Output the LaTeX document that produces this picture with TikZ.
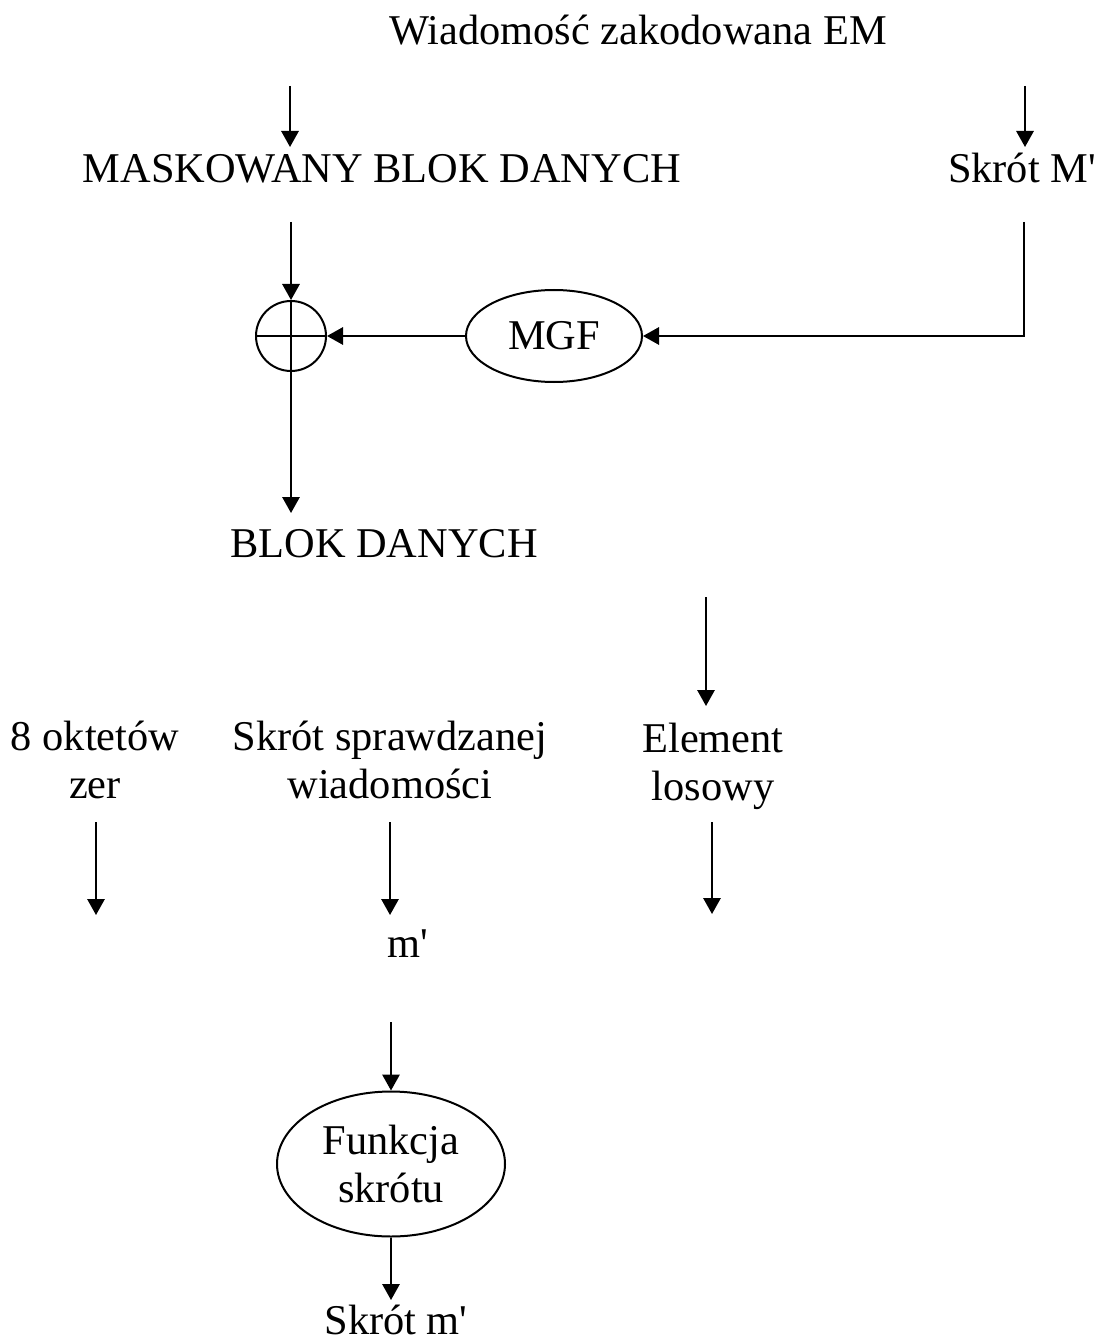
\documentclass[tikz,border=0pt]{standalone}
\usepackage{fontspec}
\setmainfont{Liberation Serif}[Ligatures=TeXOff]
\usetikzlibrary{arrows.meta,shapes.geometric}
\begin{document}
\begin{tikzpicture}[x=0.75pt,y=-0.75pt,
  txt/.style={font=\fontsize{31.8}{36}\selectfont, inner sep=0pt, anchor=base},
  mtxt/.style={txt, align=center},
  arr/.style={line width=1.5pt, -{Triangle[length=12pt,width=13pt]}},
  ln/.style={line width=1.5pt},
  ell/.style={draw, ellipse, line width=1.5pt, inner sep=0pt, font=\fontsize{31.8}{36}\selectfont, align=center}]
\useasboundingbox (0,0) rectangle (1098,1344);

% texts
\node[txt] (em) at (638,45) {Wiadomość zakodowana EM};
\node[txt] (mask) at (382,183) {MASKOWANY BLOK DANYCH};
\node[txt] (skM) at (1022,183) {Skrót M'};
\node[txt] (blok) at (384,557) {BLOK DANYCH};
\node[mtxt] (okt) at (95,798) {8 oktetów\\zer};
\node[mtxt] (spr) at (390,798) {Skrót sprawdzanej\\wiadomości};
\node[mtxt] (el) at (713,800) {Element\\losowy};
\node[txt] (mp) at (408,957) {m'};
\node[txt] (skm) at (396,1334) {Skrót m'};

% shapes
\node[draw, circle, line width=1.5pt, minimum size=52.5pt, inner sep=0pt] (xor) at (291,336) {};
\draw[ln] (xor.west) -- (xor.east);
\draw[ln] (xor.north) -- (xor.south);
\node[ell, minimum width=132pt, minimum height=69pt] (mgf) at (554,336) {MGF};
\node[ell, minimum width=171pt, minimum height=108.75pt] (hash) at (391,1164) {Funkcja\\skrótu};

% coordinates
\coordinate (a1s) at (290,86);   \coordinate (a1e) at (290,147);
\coordinate (a2s) at (1025,86);  \coordinate (a2e) at (1025,147);
\coordinate (a3s) at (291,222);
\coordinate (a4s) at (1024,222);
\coordinate (a5e) at (291,513);
\coordinate (a6s) at (706,597);  \coordinate (a6e) at (706,706);
\coordinate (a7s) at (712,822);  \coordinate (a7e) at (712,914);
\coordinate (a8s) at (96,822);   \coordinate (a8e) at (96,915);
\coordinate (a9s) at (390,822);  \coordinate (a9e) at (390,915);
\coordinate (a10s) at (391,1022);
\coordinate (a11e) at (391,1300);

% connectors
\draw[arr] (a1s) -- (a1e);
\draw[arr] (a2s) -- (a2e);
\draw[arr] (a3s) -- (xor.north);
\draw[arr] (a4s) |- (mgf.east);
\draw[arr] (mgf.west) -- (xor.east);
\draw[arr] (xor.south) -- (a5e);
\draw[arr] (a6s) -- (a6e);
\draw[arr] (a7s) -- (a7e);
\draw[arr] (a8s) -- (a8e);
\draw[arr] (a9s) -- (a9e);
\draw[arr] (a10s) -- (hash.north);
\draw[arr] (hash.south) -- (a11e);
\end{tikzpicture}
\end{document}
